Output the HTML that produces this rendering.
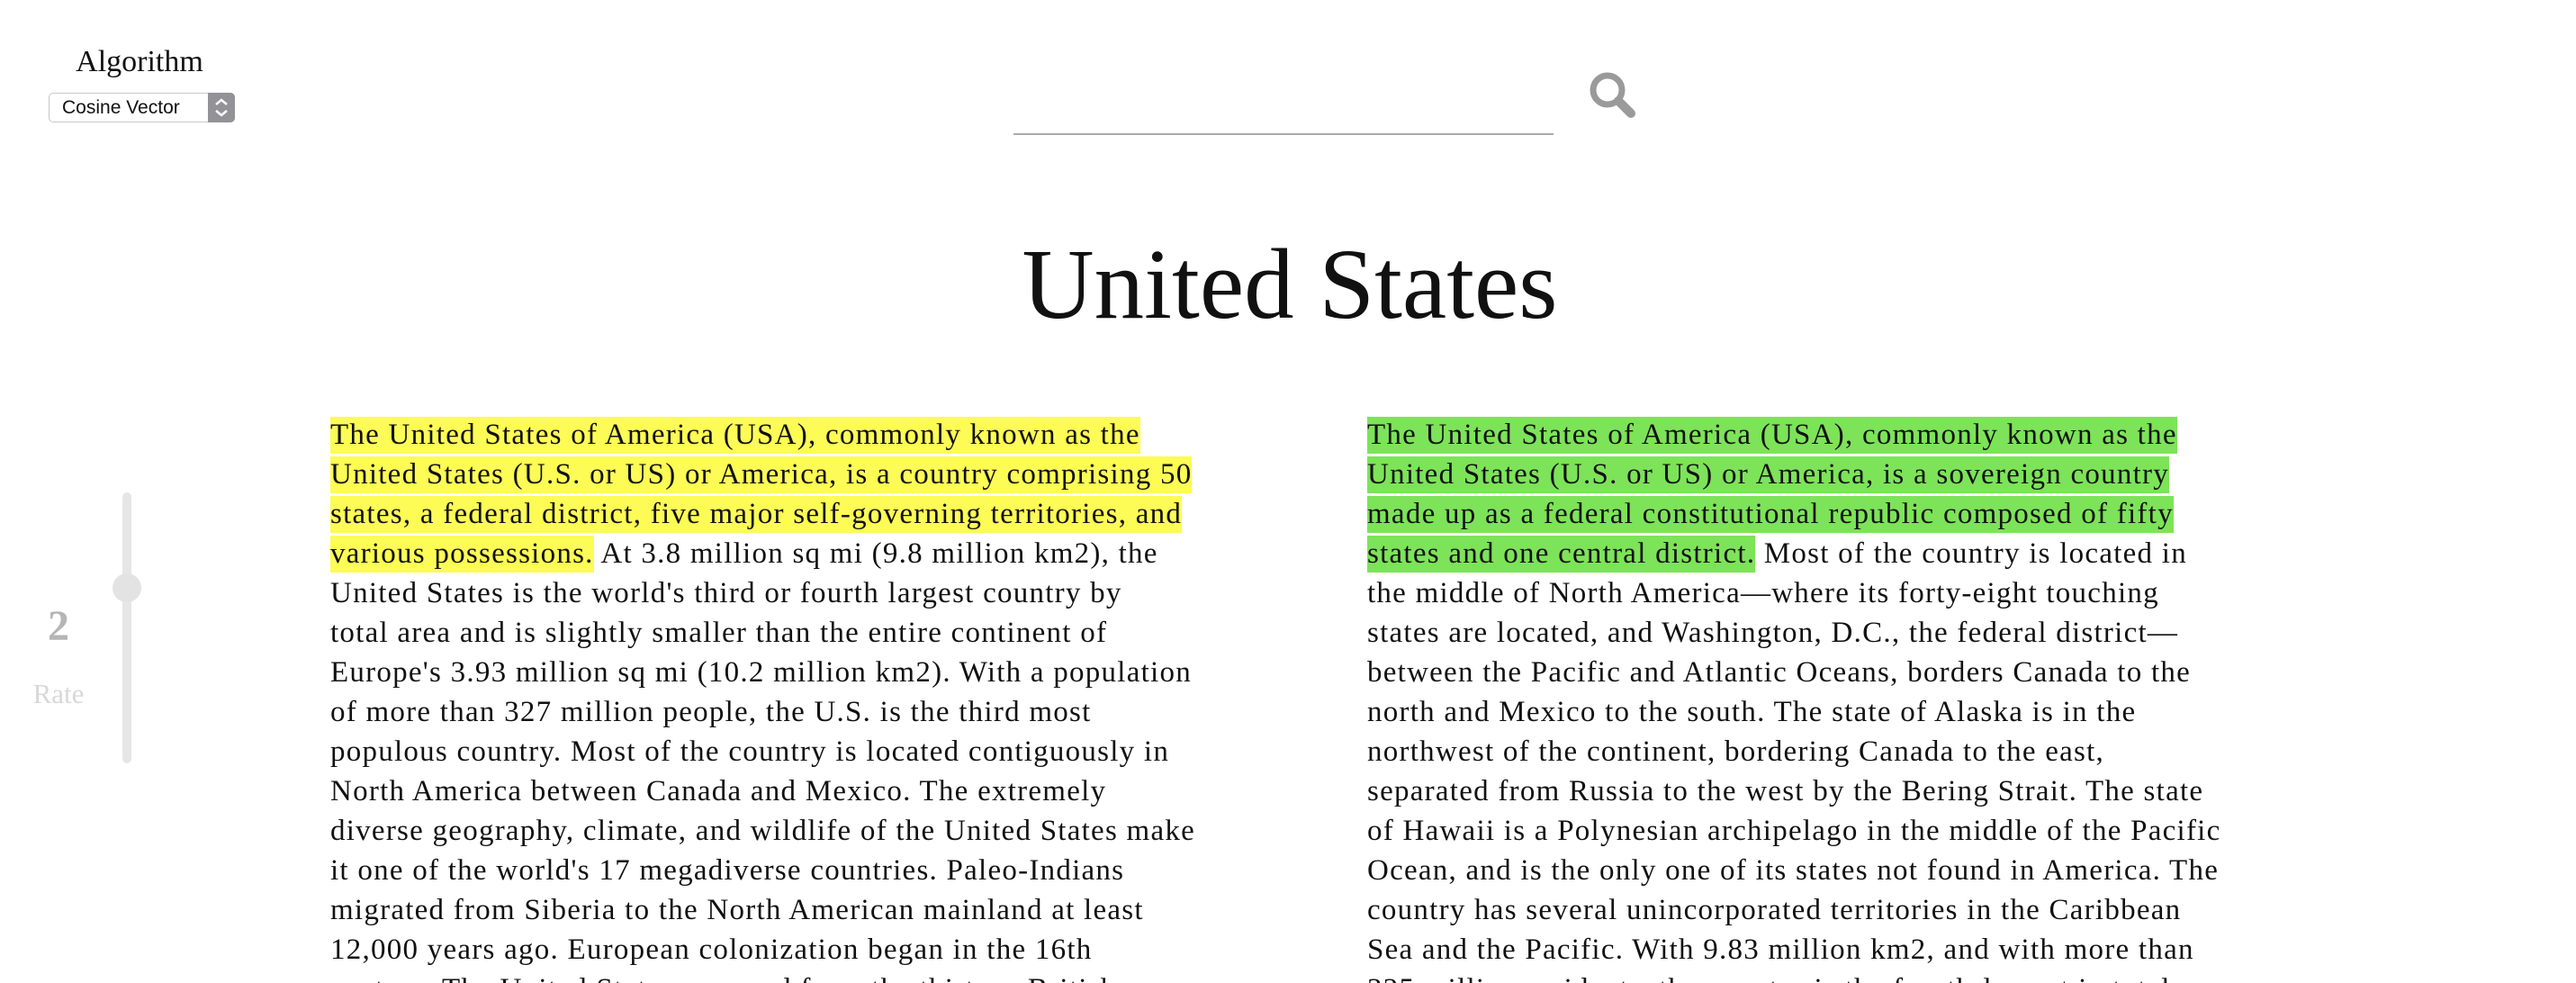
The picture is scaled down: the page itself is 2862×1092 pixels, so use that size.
<!DOCTYPE html>
<html><head><meta charset="utf-8">
<style>
html,body{margin:0;padding:0;background:#fff;width:2862px;height:1092px;overflow:hidden;position:relative;font-family:"Liberation Serif",serif;color:#111}
.abs{position:absolute}
.col{position:absolute;top:461px;font-size:33px;letter-spacing:1.25px}
.ln{height:44px;line-height:44px;white-space:nowrap}
.ln span.y{background:#fdfb55;padding:2px 0 3px}
.ln span.g{background:#7de359;padding:2px 0 3px}
</style></head><body>
<div class="abs" style="left:50px;top:50px;width:210px;text-align:center;font-size:34px">Algorithm</div>
<div class="abs" style="left:54px;top:103px;width:207px;height:33px;border:1px solid #c8c8c8;border-radius:5px;box-sizing:border-box;font-family:'Liberation Sans',sans-serif;font-size:21px;line-height:31px;padding-left:14px;background:#fff">Cosine Vector
<svg style="position:absolute;right:-1px;top:-1px" width="30" height="33" viewBox="0 0 30 33"><path d="M0 0H25A5 5 0 0 1 30 5V28A5 5 0 0 1 25 33H0Z" fill="#929297"/><path d="M9 13L15 8L21 13M9 20L15 25L21 20" fill="none" stroke="#fff" stroke-width="2.5"/></svg></div>
<div class="abs" style="left:1126px;top:148px;width:600px;height:2px;background:#aaa"></div>
<svg class="abs" style="left:1762px;top:76px" width="60" height="60" viewBox="0 0 60 60"><circle cx="24" cy="24" r="16" fill="none" stroke="#9a9a9a" stroke-width="7"/><line x1="36" y1="36" x2="50" y2="50" stroke="#9a9a9a" stroke-width="10" stroke-linecap="round"/></svg>
<div class="abs" style="left:0;width:2866px;top:252px;text-align:center;font-size:111px;line-height:130px">United States</div>
<div class="abs" style="left:136px;top:547px;width:10px;height:301px;background:#e6e6e6;border-radius:5px"></div>
<div class="abs" style="left:125px;top:637px;width:32px;height:32px;background:#e3e3e3;border-radius:50%"></div>
<div class="abs" style="left:40px;top:668px;width:50px;text-align:center;font-size:48px;color:#b5b5b5;font-weight:bold">2</div>
<div class="abs" style="left:25px;top:753px;width:80px;text-align:center;font-size:31px;color:#d8d8d8">Rate</div>
<div class="col" style="left:367px">
<div class="ln"><span class="y">The United States of America (USA), commonly known as the</span></div>
<div class="ln"><span class="y">United States (U.S. or US) or America, is a country comprising 50</span></div>
<div class="ln"><span class="y">states, a federal district, five major self-governing territories, and</span></div>
<div class="ln"><span class="y">various possessions.</span> At 3.8 million sq mi (9.8 million km2), the</div>
<div class="ln">United States is the world's third or fourth largest country by</div>
<div class="ln">total area and is slightly smaller than the entire continent of</div>
<div class="ln">Europe's 3.93 million sq mi (10.2 million km2). With a population</div>
<div class="ln">of more than 327 million people, the U.S. is the third most</div>
<div class="ln">populous country. Most of the country is located contiguously in</div>
<div class="ln">North America between Canada and Mexico. The extremely</div>
<div class="ln">diverse geography, climate, and wildlife of the United States make</div>
<div class="ln">it one of the world's 17 megadiverse countries. Paleo-Indians</div>
<div class="ln">migrated from Siberia to the North American mainland at least</div>
<div class="ln">12,000 years ago. European colonization began in the 16th</div>
<div class="ln">century. The United States emerged from the thirteen British</div>
</div>
<div class="col" style="left:1519px">
<div class="ln"><span class="g">The United States of America (USA), commonly known as the</span></div>
<div class="ln"><span class="g">United States (U.S. or US) or America, is a sovereign country</span></div>
<div class="ln"><span class="g">made up as a federal constitutional republic composed of fifty</span></div>
<div class="ln"><span class="g">states and one central district.</span> Most of the country is located in</div>
<div class="ln">the middle of North America—where its forty-eight touching</div>
<div class="ln">states are located, and Washington, D.C., the federal district—</div>
<div class="ln">between the Pacific and Atlantic Oceans, borders Canada to the</div>
<div class="ln">north and Mexico to the south. The state of Alaska is in the</div>
<div class="ln">northwest of the continent, bordering Canada to the east,</div>
<div class="ln">separated from Russia to the west by the Bering Strait. The state</div>
<div class="ln">of Hawaii is a Polynesian archipelago in the middle of the Pacific</div>
<div class="ln">Ocean, and is the only one of its states not found in America. The</div>
<div class="ln">country has several unincorporated territories in the Caribbean</div>
<div class="ln">Sea and the Pacific. With 9.83 million km2, and with more than</div>
<div class="ln">325 million residents, the country is the fourth-largest in total</div>
</div>
</body></html>
